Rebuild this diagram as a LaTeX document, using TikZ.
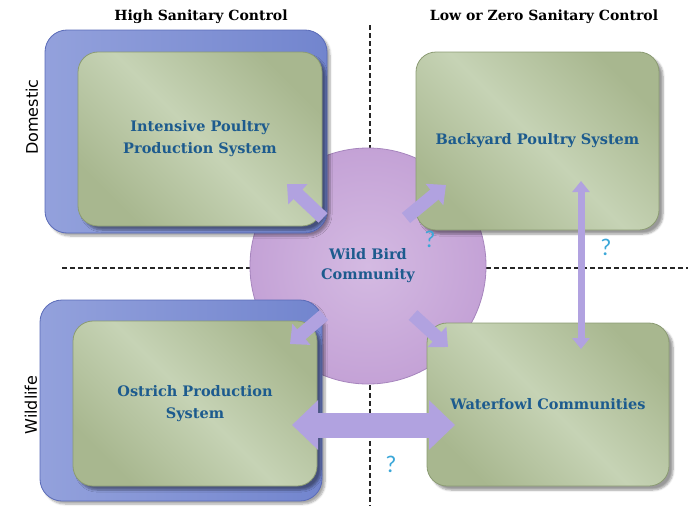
\documentclass[tikz,border=0pt]{standalone}
\usepackage{fontspec}
\setmainfont{DejaVu Serif}
\newfontfamily\labelfont{DejaVu Sans}
\newfontfamily\qfont{Carlito}
\usetikzlibrary{arrows.meta,shadows.blur}
\definecolor{boxblue}{HTML}{7285CE}
\definecolor{boxbluelight}{HTML}{93A1DC}
\definecolor{boxblueedge}{HTML}{5A6BB8}
\definecolor{greenA}{HTML}{A8B78F}
\definecolor{greenB}{HTML}{C6D3B5}
\definecolor{greenedge}{HTML}{8B9B73}
\definecolor{circfill}{HTML}{C4A2D6}
\definecolor{circlight}{HTML}{D4BAE2}
\definecolor{circedge}{HTML}{A685BD}
\definecolor{arrowfill}{HTML}{B1A2E0}
\definecolor{textblue}{HTML}{1D5B8E}
\definecolor{qblue}{HTML}{3BA7D8}
\tikzset{
  bluebox/.style={rounded corners=22pt, draw=boxblueedge, line width=0.8pt,
    left color=boxbluelight, right color=boxblue, anchor=center,
    blur shadow={shadow xshift=3pt, shadow yshift=-3pt, shadow blur steps=6, shadow opacity=35}},
  greenbox/.style={rounded corners=20pt, draw=greenedge, line width=0.8pt,
    left color=greenA, right color=greenA, middle color=greenB, shading angle=135,
    anchor=center, align=center, text=textblue,
    font=\bfseries\fontsize{14.5}{22}\selectfont,
    blur shadow={shadow xshift=4pt, shadow yshift=-4pt, shadow blur steps=6, shadow opacity=40}},
  divider/.style={draw=black!85, line width=1.6pt, dash pattern=on 5pt off 3pt},
  heading/.style={font=\bfseries\fontsize{14}{16}\selectfont, text=black},
  sidelabel/.style={font=\labelfont\fontsize{16}{18}\selectfont, rotate=90},
  qmark/.style={font=\qfont\fontsize{24}{24}\selectfont, text=qblue},
  blk/.style={draw=arrowfill, line width=#1},
}
\begin{document}
\begin{tikzpicture}[x=1pt,y=-1pt]
\useasboundingbox (0,0) rectangle (688,506);
% headings and side labels
\node[heading] (h1) at (201,17) {High Sanitary Control};
\node[heading] (h2) at (544,17) {Low or Zero Sanitary Control};
\node[sidelabel] (l1) at (32,117) {Domestic};
\node[sidelabel] (l2) at (31,405) {Wildlife};
% dashed dividers
\coordinate (vt) at (370,25);
\coordinate (vb) at (370,506);
\coordinate (hl) at (62,268);
\coordinate (hr) at (688,268);
\draw[divider] (vt) -- (vb);
\draw[divider] (hl) -- (hr);
% central circle
\node[circle, minimum size=236pt, inner sep=0pt, draw=circedge, line width=0.8pt,
  inner color=circlight, outer color=circfill, text=textblue, align=center,
  font=\bfseries\fontsize{14.5}{20}\selectfont] (wb) at (368,266) {Wild Bird\\Community};
% boxes
\node[bluebox, minimum width=282pt, minimum height=203pt] (ib) at (186,131.5) {};
\node[greenbox, minimum width=244pt, minimum height=174pt] (ip) at (200,139) {Intensive Poultry\\Production System};
\node[greenbox, minimum width=243pt, minimum height=178pt] (by) at (537.5,141) {Backyard Poultry System};
\node[bluebox, minimum width=282pt, minimum height=201pt] (ob) at (181,400.5) {};
\node[greenbox, minimum width=244pt, minimum height=165pt] (os) at (195,403.5) {Ostrich Production\\System};
\node[greenbox, minimum width=242pt, minimum height=163pt] (wf) at (548,404.5) {Waterfowl Communities};
% arrows
\coordinate (a1s) at (323,218); \coordinate (a1e) at (287,184);
\coordinate (a2s) at (406,218); \coordinate (a2e) at (446,185);
\coordinate (a3s) at (324,315); \coordinate (a3e) at (290,344);
\coordinate (a4s) at (413,315); \coordinate (a4e) at (448,347);
\coordinate (a5s) at (581,181); \coordinate (a5e) at (581,349);
\coordinate (a6s) at (292,425); \coordinate (a6e) at (455,425);
\draw[blk=13pt, -{Triangle[length=15pt, width=27pt]}] (a1s) -- (a1e);
\draw[blk=13pt, -{Triangle[length=15pt, width=27pt]}] (a2s) -- (a2e);
\draw[blk=13pt, -{Triangle[length=15pt, width=27pt]}] (a3s) -- (a3e);
\draw[blk=13pt, -{Triangle[length=15pt, width=27pt]}] (a4s) -- (a4e);
\draw[blk=7pt, {Triangle[length=11pt, width=17pt]}-{Triangle[length=11pt, width=17pt]}] (a5s) -- (a5e);
\draw[blk=25pt, {Triangle[length=26pt, width=48pt]}-{Triangle[length=26pt, width=48pt]}] (a6s) -- (a6e);
% question marks
\node[qmark] (q1) at (430,239) {?};
\node[qmark] (q2) at (606,247) {?};
\node[qmark] (q3) at (391,464) {?};
\end{tikzpicture}
\end{document}
